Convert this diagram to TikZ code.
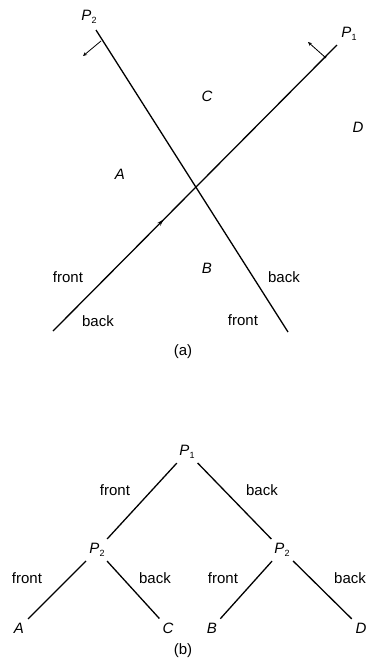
\documentclass[tikz,border=0pt]{standalone}
\usepackage{fontspec}
\setmainfont{Liberation Sans}
\usetikzlibrary{arrows.meta,decorations.markings}

\newcommand{\pn}[1]{\textit{P}\raisebox{-0.45ex}{\small #1}}

\begin{document}
\begin{tikzpicture}[x=1pt,y=-1pt,font=\fontsize{15}{17}\selectfont,
  plane/.style={line width=1.3pt},
  nrm/.style={-{Stealth[length=4pt,width=3.5pt]},line width=0.8pt},
  edge/.style={line width=1.3pt,shorten <=4pt,shorten >=4pt},
  lbl/.style={inner sep=1pt},
  reg/.style={inner sep=1pt,font=\fontsize{15}{17}\selectfont\itshape}]
\useasboundingbox (0,0) rectangle (367,662);

% (a) the two planes
\coordinate (p2a) at (96,30);
\coordinate (p2b) at (288,332);
\coordinate (p1a) at (53,331);
\coordinate (p1b) at (337,45);
\draw[plane] (p2a) -- (p2b);
\draw[plane,postaction={decorate},decoration={markings,
  mark=at position 0.39 with {\arrow{Stealth[length=7pt,width=4pt]}}}] (p1a) -- (p1b);
\coordinate (n2) at (101,41);
\coordinate (n1) at (326,58);
\draw[nrm] (n2) -- (83,56);
\draw[nrm] (n1) -- (308,42);
\node[lbl] (l2) at (89,17) {\pn{2}};
\node[lbl] (l1) at (349,34) {\pn{1}};
\node[reg] (rc) at (207,96) {C};
\node[reg] (rd) at (358,127) {D};
\node[reg] (ra) at (120,174) {A};
\node[reg] (rb) at (207,268) {B};
\node[lbl] (f1) at (68,277) {front};
\node[lbl] (b1) at (98,321) {back};
\node[lbl] (b2) at (284,277) {back};
\node[lbl] (f2) at (243,320) {front};
\node[lbl] (capa) at (183,352) {(a)};

% (b) the tree
\node[lbl] (t1) at (187,452) {\pn{1}};
\node[lbl] (t2l) at (97,550) {\pn{2}};
\node[lbl] (t2r) at (282,550) {\pn{2}};
\node[reg] (la) at (19,628) {A};
\node[reg] (lc) at (168,628) {C};
\node[reg] (lb) at (212,628) {B};
\node[reg] (ld) at (361,628) {D};
\draw[edge] (t1) -- (t2l);
\draw[edge] (t1) -- (t2r);
\draw[edge] (t2l) -- (la);
\draw[edge] (t2l) -- (lc);
\draw[edge] (t2r) -- (lb);
\draw[edge] (t2r) -- (ld);
\node[lbl] (e1) at (115,490) {front};
\node[lbl] (e2) at (262,490) {back};
\node[lbl] (e3) at (27,578) {front};
\node[lbl] (e4) at (155,578) {back};
\node[lbl] (e5) at (223,578) {front};
\node[lbl] (e6) at (350,578) {back};
\node[lbl] (capb) at (183,651) {(b)};
\end{tikzpicture}
\end{document}
